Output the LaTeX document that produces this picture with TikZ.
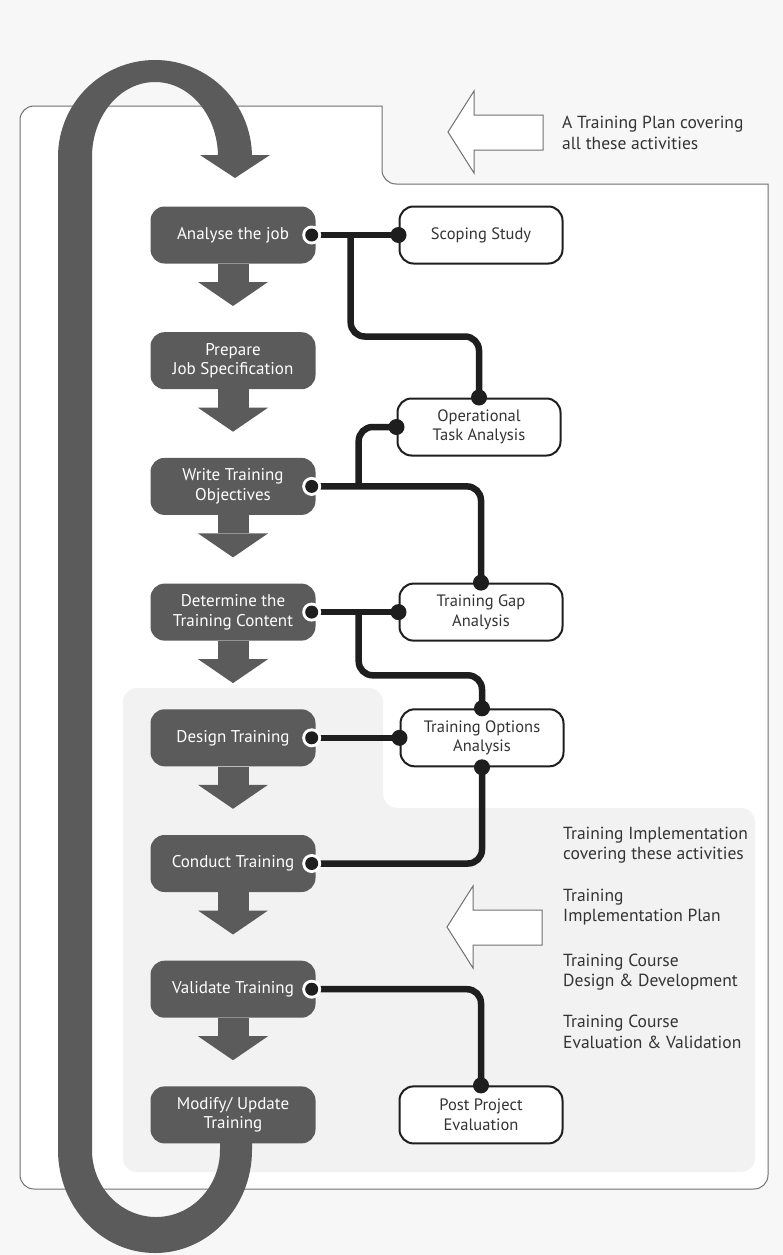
\documentclass[tikz,border=0pt]{standalone}
\usepackage{fontspec}
\setmainfont{PT Sans}
\usetikzlibrary{positioning,arrows.meta,calc}
\definecolor{stepgrey}{HTML}{5B5B5B}
\definecolor{linkblack}{HTML}{1E1E1E}
\definecolor{pagegrey}{HTML}{F7F7F7}
\definecolor{zonegrey}{HTML}{F2F2F2}
\definecolor{framegrey}{HTML}{707070}
\definecolor{textgrey}{HTML}{333333}
\tikzset{
    on grid,
    node distance=125.7pt,
    stepbox/.style = {
        fill=stepgrey,
        shape=rectangle,
        rounded corners=14pt,
        minimum height=57pt,
        minimum width=165pt,
        inner sep=2pt,
        text=white,
        align=center,
        font=\fontsize{17}{19.5}\selectfont
    },
    taskbox/.style = {
        draw=linkblack,
        fill=white,
        shape=rectangle,
        rounded corners=14pt,
        minimum height=57pt,
        minimum width=163pt,
        inner sep=2pt,
        line width=2pt,
        text=textgrey,
        align=center,
        font=\fontsize{16.5}{19.5}\selectfont
    },
    note/.style = {
        anchor=west,
        inner sep=0pt,
        align=left,
        text=textgrey,
        font=\fontsize{17.5}{20.5}\selectfont
    },
    steparrow/.style = {
        draw=stepgrey,
        line width=31pt,
        -{Triangle[width=70pt,length=24pt,line width=0pt]}
    },
    link/.style = {
        draw=linkblack,
        line width=6.5pt,
        rounded corners=14pt
    },
    planarrow/.pic = {
        \draw[framegrey, fill=white, line width=1pt]
            (0,0) -- (26,41) -- (26,17) -- (95,17) -- (95,-18)
            -- (26,-18) -- (26,-41) -- cycle;
    },
}

\begin{document}
\begin{tikzpicture}[x=1pt,y=1pt]
    \useasboundingbox (0,0) rectangle (783,-1255);
    \fill[pagegrey] (0,0) rectangle (783,-1255);

    % plan frame and implementation zone
    \draw[framegrey, fill=white, line width=1pt]
        (20,-1175) -- (20,-120) arc[start angle=180, end angle=90, radius=14]
        -- (382,-106) -- (382,-170) arc[start angle=180, end angle=270, radius=14]
        -- (768,-184) -- (768,-1175) arc[start angle=0, end angle=-90, radius=14]
        -- (34,-1189) arc[start angle=270, end angle=180, radius=14] -- cycle;
    \fill[zonegrey, rounded corners=14pt]
        (123,-688) -- (383,-688) -- (383,-808) -- (755,-808)
        -- (755,-1172) -- (123,-1172) -- cycle;

    % feedback loop
    \fill[stepgrey] (58,-1150) -- (58,-157)
        arc[start angle=180, end angle=0, radius=97]
        -- (218,-157)
        arc[start angle=0, end angle=180, x radius=63, y radius=75]
        -- (92,-1150)
        arc[start angle=180, end angle=360, x radius=64, y radius=67]
        -- (220,-1130) -- (252,-1130) -- (252,-1150)
        arc[start angle=0, end angle=-180, x radius=97, y radius=103]
        -- cycle;
    \fill[stepgrey] (200,-155) -- (270,-155) -- (235,-178) -- cycle;

    % training steps
    \node[stepbox] (analyse) at (233,-235) {Analyse the job};
    \node[stepbox, below=of analyse] (prepare) {Prepare\\Job Specification};
    \node[stepbox, below=of prepare] (write) {Write Training\\Objectives};
    \node[stepbox, below=of write] (determine) {Determine the\\Training Content};
    \node[stepbox, below=of determine] (design) {Design Training};
    \node[stepbox, below=of design] (conduct) {Conduct Training};
    \node[stepbox, below=of conduct] (validate) {Validate Training};
    \node[stepbox, below=of validate] (modify) {Modify/ Update\\Training};

    \foreach \a/\b in {analyse/prepare, prepare/write, write/determine,
        determine/design, design/conduct, conduct/validate, validate/modify}
        \draw[steparrow] (\a.south) -- ([yshift=26pt]\b.north);

    % analysis activities
    \node[taskbox, right=248pt of analyse] (scope) {Scoping Study};
    \node[taskbox] (ops) at (479,-427) {Operational\\Task Analysis};
    \node[taskbox, right=248pt of determine] (gap) {Training Gap\\Analysis};
    \node[taskbox, right=249pt of design] (options) {Training Options\\Analysis};
    \node[taskbox, right=248pt of modify] (post) {Post Project\\Evaluation};

    % links
    \draw[link] (analyse.east) -- (scope.west);
    \draw[link] (analyse.east) ++(35pt,0) |- ([yshift=61pt]ops.north) -- (ops.north);
    \draw[link] (write.east) -| (gap.north);
    \draw[link] (write.east) ++(43pt,0) |- (ops.west);
    \draw[link] (determine.east) -- (gap.west);
    \draw[link] (determine.east) ++(43pt,0) |- ([yshift=33pt]options.north) -- (options.north);
    \draw[link] (design.east) -- (options.west);
    \draw[link] (options.south) |- (conduct.east);
    \draw[link] (validate.east) -| (post.north);

    \foreach \n in {analyse,write,determine,design,conduct,validate} {
        \fill[white] ([xshift=-4pt]\n.east) circle (9.5pt);
        \fill[linkblack] ([xshift=-4pt]\n.east) circle (6.5pt);
    }
    \foreach \p in {scope.west,ops.north,ops.west,gap.north,gap.west,
        options.north,options.west,options.south,post.north}
        \fill[linkblack] (\p) circle (8pt);

    % plan notes
    \pic at (448,-132) {planarrow};
    \node[note] (plan) at (562,-133) {A Training Plan covering\\all these activities};

    \pic at (447,-927) {planarrow};
    \node[note] (impl) at (563,-845) {Training Implementation\\covering these activities};
    \node[note] (implplan) at (563,-907) {Training\\Implementation Plan};
    \node[note] (coursedev) at (563,-972) {Training Course\\Design \& Development};
    \node[note] (courseval) at (563,-1032) {Training Course\\Evaluation \& Validation};
\end{tikzpicture}
\end{document}
